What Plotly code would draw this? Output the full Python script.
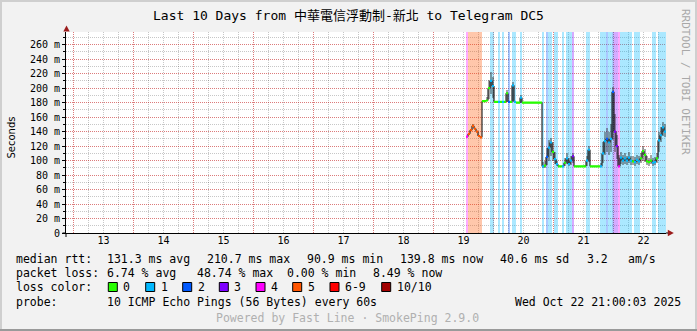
import plotly.graph_objects as go
import pandas as pd

# ---------------- data ----------------
DAYS = [13, 14, 15, 16, 17, 18, 19, 20, 21, 22]
DAY_MONTH = "2025-10"
RANGE_START = "2025-10-12 21:00:03"
RANGE_END = "2025-10-22 21:00:03"
SAMPLE_START = "2025-10-19 13:00:00"
STEP_MIN = 48

median_ms = [
    133, 137, 142, 148, 144, 140, 134, 132, 182, 182,
    183, 200, 210, 203, 181, 181, 181, 181, 181, 181,
    193, 181, 181, 204, 181, 180, 180, 187, 180, 180,
    180, 180, 180, 180, 180, 180, 180, 180, 92, 93,
    105, 118, 125, 112, 102, 95, 92, 92, 92, 97,
    103, 95, 100, 106, 92, 92, 92, 92, 92, 92,
    100, 115, 92, 92, 92, 92, 92, 92, 110, 127,
    130, 125, 130, 195, 140, 120, 92, 104, 100, 103,
    100, 104, 100, 99, 98, 101, 99, 103, 113, 108,
    99, 98, 100, 97, 98, 103, 128, 135, 146, 140,
]
smoke_hi_ms = [
    134, 138, 143, 150, 145, 141, 135, 133, 182, 182,
    188, 212, 222, 215, 181, 181, 181, 181, 181, 181,
    198, 181, 181, 208, 181, 180, 180, 191, 180, 180,
    180, 180, 180, 180, 180, 180, 180, 180, 98, 100,
    118, 128, 131, 126, 112, 100, 92, 92, 94, 104,
    110, 103, 106, 110, 92, 92, 92, 92, 92, 94,
    106, 120, 92, 92, 92, 92, 92, 96, 126, 140,
    145, 140, 150, 202, 165, 135, 108, 112, 108, 110,
    107, 112, 107, 106, 105, 108, 106, 110, 120, 116,
    106, 104, 108, 104, 105, 110, 140, 146, 153, 150,
]
smoke_lo_ms = [
    132, 136, 141, 146, 143, 139, 133, 131, 182, 182,
    182, 185, 192, 186, 181, 181, 181, 181, 181, 181,
    181, 181, 181, 182, 181, 180, 180, 180, 180, 180,
    180, 180, 180, 180, 180, 180, 180, 180, 90, 90,
    94, 100, 106, 100, 95, 92, 92, 92, 92, 92,
    95, 92, 94, 97, 92, 92, 92, 92, 92, 92,
    93, 98, 92, 92, 92, 92, 92, 92, 96, 108,
    112, 108, 112, 128, 112, 102, 92, 95, 94, 95,
    94, 96, 94, 94, 93, 95, 94, 96, 100, 98,
    94, 93, 95, 93, 94, 96, 112, 126, 134, 132,
]
lost_pings = [
    4, 5, 5, 5, 5, 5, 5, 5, 0, 0,
    0, 0, 1, 1, 0, 0, 1, 0, 1, 0,
    0, 2, 0, 1, 1, 0, 0, 1, 0, 0,
    0, 0, 0, 0, 0, 0, 0, 0, 1, 0,
    2, 1, 1, 0, 1, 1, 0, 0, 1, 0,
    1, 1, 1, 3, 0, 0, 0, 0, 0, 0,
    1, 1, 0, 0, 0, 0, 0, 1, 1, 1,
    2, 1, 1, 2, 3, 3, 4, 1, 1, 1,
    1, 1, 1, 0, 1, 1, 1, 0, 0, 0,
    0, 0, 0, 1, 1, 0, 1, 1, 1, 1,
]

Y_TICKS = [0, 20, 40, 60, 80, 100, 120, 140, 160, 180, 200, 220, 240, 260]
Y_TICK_TEXT = ["0", "20 m", "40 m", "60 m", "80 m", "100 m", "120 m", "140 m",
               "160 m", "180 m", "200 m", "220 m", "240 m", "260 m"]
Y_MAX = 277.6

LOSS_LABELS = ["0", "1", "2", "3", "4", "5", "6-9", "10/10"]
LOSS_COLORS = ["#26ff00", "#00b8ff", "#0059ff", "#7e00ff", "#ff00ff",
               "#ff5500", "#ff0000", "#a10000"]
LOSS_BG = ["rgba(38,255,0,0.33)", "rgba(0,184,255,0.33)", "rgba(0,89,255,0.33)",
           "rgba(126,0,255,0.33)", "rgba(255,0,255,0.33)", "rgba(255,85,0,0.33)",
           "rgba(255,0,0,0.33)", "rgba(161,0,0,0.33)"]

TITLE = "Last 10 Days from 中華電信浮動制-新北 to Telegram DC5"
RTT_STATS = ["131.3 ms avg", "210.7 ms max", "90.9 ms min", "139.8 ms now",
             "40.6 ms sd", "3.2", "am/s"]
LOSS_STATS = ["6.74 % avg", "48.74 % max", "0.00 % min", "8.49 % now"]
PROBE = "10 ICMP Echo Pings (56 Bytes) every 60s"
STAMP = "Wed Oct 22 21:00:03 2025"
POWERED = "Powered by Fast Line · SmokePing 2.9.0"
WATERMARK = "RRDTOOL / TOBI OETIKER"

# ---------------- geometry / style ----------------
W, H = 697, 331
L, R, T, B = 66, 31, 32, 98
PW = W - L - R
PH = H - T - B

def px(x):
    return (x - L) / PW

def py(y):
    return (H - B - y) / PH

MONO = "DejaVu Sans Mono, Noto Sans CJK TC, monospace"
MGRID = "rgba(255,0,0,0.38)"
GRID = "rgba(0,0,0,0.22)"
DASH = "1px,1px"

def level_of(n):
    if n <= 5:
        return n
    if n < 10:
        return 6
    return 7

t = pd.date_range(SAMPLE_START, periods=len(median_ms) + 1, freq=f"{STEP_MIN}min")
step = pd.Timedelta(minutes=STEP_MIN)
centers = t[:-1] + step / 2
width_ms = STEP_MIN * 60 * 1000

fig = go.Figure()

# loss background bands
fig.add_trace(go.Bar(
    x=centers, y=[Y_MAX if n > 0 else None for n in lost_pings], base=0,
    width=width_ms, marker=dict(color=[LOSS_BG[level_of(n)] for n in lost_pings], line_width=0),
    hoverinfo="skip", showlegend=False))

# smoke
fig.add_trace(go.Bar(
    x=centers, y=[h - l for h, l in zip(smoke_hi_ms, smoke_lo_ms)], base=smoke_lo_ms,
    width=width_ms, marker=dict(color="rgba(40,40,40,0.42)", line_width=0),
    hoverinfo="skip", showlegend=False))

# black median line (on the overlay axis that carries the day labels)
fig.add_trace(go.Scatter(
    x=t, y=median_ms + [median_ms[-1]], mode="lines", line=dict(color="black", width=1, shape="hv"),
    xaxis="x2", hoverinfo="skip", showlegend=False))

# loss coloured median segments
for lvl, col in enumerate(LOSS_COLORS):
    xs, ys = [], []
    for i, (m, n) in enumerate(zip(median_ms, lost_pings)):
        if level_of(n) == lvl:
            xs += [t[i], t[i + 1], None]
            ys += [m, m, None]
    if xs:
        fig.add_trace(go.Scatter(x=xs, y=ys, mode="lines", line=dict(color=col, width=2.2),
                                 xaxis="x2", connectgaps=False, hoverinfo="skip", showlegend=False))

midnights = [f"{DAY_MONTH}-{d:02d} 00:00:00" for d in DAYS]
noons = [f"{DAY_MONTH}-{d:02d} 12:00:00" for d in DAYS]

fig.update_layout(
    width=W, height=H, margin=dict(l=L, r=R, t=T, b=B, pad=0),
    paper_bgcolor="#f2f2f2", plot_bgcolor="white",
    barmode="overlay", bargap=0, showlegend=False,
    font=dict(family=MONO, size=10, color="black"),
    xaxis=dict(type="date", range=[RANGE_START, RANGE_END], tickmode="array", tickvals=midnights,
               showticklabels=False, ticks="", showgrid=True, gridcolor=MGRID, griddash=DASH, gridwidth=1,
               minor=dict(dtick=6 * 3600 * 1000, tick0=midnights[0], showgrid=True, gridcolor=GRID,
                          griddash=DASH, gridwidth=1, ticks=""),
               showline=True, linecolor="black", linewidth=1, zeroline=False, layer="above traces",
               fixedrange=True),
    xaxis2=dict(type="date", range=[RANGE_START, RANGE_END], overlaying="x", anchor="y", side="bottom",
                tickmode="array", tickvals=noons, ticktext=[str(d) for d in DAYS], showgrid=False,
                showline=False, ticks="", zeroline=False, tickfont=dict(family=MONO, size=10),
                fixedrange=True),
    yaxis=dict(range=[0, Y_MAX], tickmode="array", tickvals=Y_TICKS, ticktext=Y_TICK_TEXT,
               showgrid=True, gridcolor=MGRID, griddash=DASH, gridwidth=1,
               minor=dict(dtick=10, tick0=0, showgrid=True, gridcolor=GRID, griddash=DASH, gridwidth=1,
                          ticks="outside", ticklen=2, tickcolor="black"),
               ticks="outside", ticklen=3, tickcolor="black", tickwidth=1,
               showline=True, linecolor="black", linewidth=1, zeroline=False, layer="above traces",
               tickfont=dict(family=MONO, size=10), fixedrange=True),
)

ann = []
shapes = []
PAD = 2  # annotation border+pad offset

def text(x, y, s, size=11.5, color="black", xanchor="left", family=MONO, angle=0):
    if xanchor == "left":
        x -= PAD
    elif xanchor == "right":
        x += PAD
    ann.append(dict(x=px(x), y=py(y), xref="paper", yref="paper", text=s, showarrow=False,
                    xanchor=xanchor, yanchor="middle", textangle=angle,
                    font=dict(family=family, size=size, color=color)))

text(348.5, 15, TITLE, size=13, xanchor="center")
text(11, 137.5, "Seconds", size=10, family="DejaVu Sans, sans-serif", angle=-90, xanchor="center")
text(686, 82, WATERMARK, size=11, color="#a8a8a8", angle=90, xanchor="center")

ROW_Y = [259.3, 273.3, 287, 301.7]
RTT_X = [107.3, 207.3, 307, 400, 500, 586.5, 628.3]
LOSS_X = [107.3, 196.7, 286.7, 372.7]
SWATCH_X = [108.3, 145.7, 182.7, 219.3, 256, 292.7, 330, 381.7]

text(16, ROW_Y[0], "median rtt:")
for x, s in zip(RTT_X, RTT_STATS):
    text(x, ROW_Y[0], s)
text(16, ROW_Y[1], "packet loss:")
for x, s in zip(LOSS_X, LOSS_STATS):
    text(x, ROW_Y[1], s)
text(16, ROW_Y[2], "loss color:")
for x, lab, col in zip(SWATCH_X, LOSS_LABELS, LOSS_COLORS):
    shapes.append(dict(type="rect", xref="paper", yref="paper",
                       x0=px(x), x1=px(x + 9), y0=py(ROW_Y[2] - 4.5), y1=py(ROW_Y[2] + 4.5),
                       fillcolor=col, line=dict(color="black", width=1), layer="above"))
    text(x + 15, ROW_Y[2], lab)
text(16, ROW_Y[3], "probe:")
text(107.3, ROW_Y[3], PROBE)
text(680.5, ROW_Y[3], STAMP, xanchor="right")
text(347.5, 318.3, POWERED, color="#b0b0b0", xanchor="center")

# axis arrows
def path(pts):
    return "M " + " L ".join(f"{px(a)},{py(b)}" for a, b in pts) + " Z"

ARROW = "#9b1c1c"
shapes.append(dict(type="path", xref="paper", yref="paper", path=path([(66.5, 25.5), (63.3, 31.5), (69.7, 31.5)]),
                   fillcolor=ARROW, line=dict(width=0), layer="above"))
shapes.append(dict(type="path", xref="paper", yref="paper", path=path([(673.8, 233), (667.8, 229.8), (667.8, 236.2)]),
                   fillcolor=ARROW, line=dict(width=0), layer="above"))
# axis line extensions
shapes.append(dict(type="line", xref="paper", yref="paper", x0=px(666), x1=px(668), y0=py(233), y1=py(233),
                   line=dict(color="black", width=1)))
shapes.append(dict(type="line", xref="paper", yref="paper", x0=px(62.5), x1=px(66), y0=py(233), y1=py(233),
                   line=dict(color="black", width=1)))
shapes.append(dict(type="line", xref="paper", yref="paper", x0=px(66), x1=px(66), y0=py(233), y1=py(237),
                   line=dict(color="black", width=1)))

# frame
def frame_line(x0, y0, x1, y1, col):
    shapes.append(dict(type="line", xref="paper", yref="paper", x0=px(x0), y0=py(y0), x1=px(x1), y1=py(y1),
                       line=dict(color=col, width=2)))

frame_line(0, 1, W, 1, "#cfcfcf")
frame_line(1, 0, 1, H, "#cfcfcf")
frame_line(W - 1, 0, W - 1, H, "#cfcfcf")
frame_line(0, H - 1, W, H - 1, "#9a9a9a")

fig.update_layout(annotations=ann, shapes=shapes)
fig.write_html("out.html")
